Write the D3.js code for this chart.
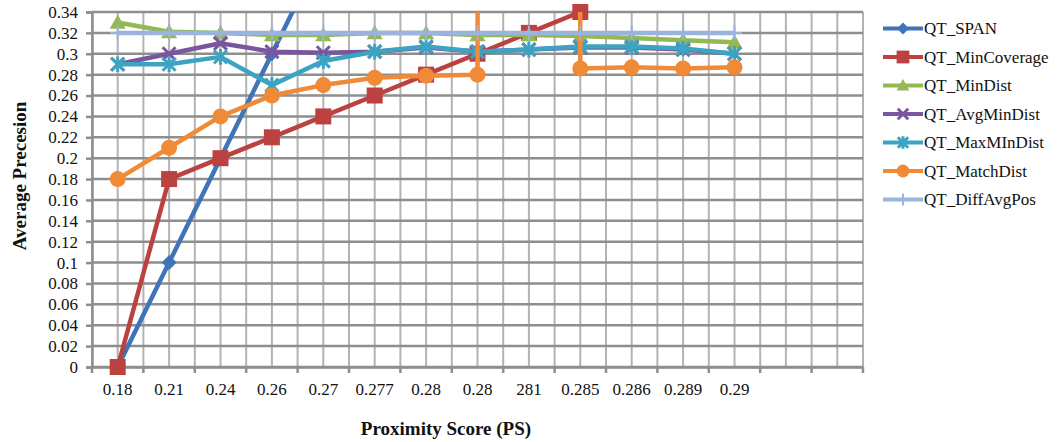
<!DOCTYPE html>
<html>
<head>
<meta charset="utf-8">
<script src="https://cdn.jsdelivr.net/npm/d3@7"></script>
<style>
  html, body { margin: 0; padding: 0; background: #fff; }
  text { font-family: "Liberation Serif", "Times New Roman", serif; fill: #111; }
</style>
</head>
<body>
<div id="chart"></div>
<script>
// Chart data
const categories = ['0.18', '0.21', '0.24', '0.26', '0.27', '0.277', '0.28', '0.28', '281', '0.285', '0.286', '0.289', '0.29'];
const slotCount = 15; // two empty slots on the right
const yTickValues = [0, 0.02, 0.04, 0.06, 0.08, 0.1, 0.12, 0.14, 0.16, 0.18, 0.2, 0.22, 0.24, 0.26, 0.28, 0.3, 0.32, 0.34];

const seriesNames = ['QT_SPAN', 'QT_MinCoverage', 'QT_MinDist', 'QT_AvgMinDist', 'QT_MaxMInDist', 'QT_MatchDist', 'QT_DiffAvgPos'];
const qtSpan = [0, 0.1, 0.2, 0.3, 0.4];
const qtMinCoverage = [0, 0.18, 0.2, 0.22, 0.24, 0.26, 0.28, 0.3, 0.32, 0.34];
const qtMinDist = [0.33, 0.321, 0.32, 0.318, 0.318, 0.32, 0.32, 0.318, 0.318, 0.317, 0.315, 0.313, 0.311];
const qtAvgMinDist = [0.29, 0.3, 0.31, 0.302, 0.301, 0.302, 0.306, 0.302, 0.304, 0.306, 0.306, 0.304, 0.3];
const qtMaxMinDist = [0.29, 0.29, 0.297, 0.27, 0.293, 0.302, 0.307, 0.302, 0.304, 0.307, 0.307, 0.305, 0.3];
const qtMatchDist = [0.18, 0.21, 0.24, 0.26, 0.27, 0.277, 0.279, 0.28, 28.1, 0.286, 0.287, 0.286, 0.287];
const qtDiffAvgPos = [0.32, 0.32, 0.32, 0.32, 0.32, 0.32, 0.32, 0.32, 0.32, 0.32, 0.32, 0.32, 0.32];

const seriesColors = ['#3f74b9', '#bb4240', '#93b955', '#7a55a0', '#3ca4c2', '#f08a36', '#9bb4de'];
const seriesMarkers = ['diamond', 'square', 'triangle', 'times', 'asterisk', 'circle', 'plus'];
const seriesValues = [qtSpan, qtMinCoverage, qtMinDist, qtAvgMinDist, qtMaxMinDist, qtMatchDist, qtDiffAvgPos];

const W = 1060, H = 442;
const margin = { top: 12, right: 197, bottom: 75, left: 92 };
const width = W - margin.left - margin.right;
const height = H - margin.top - margin.bottom;

const svg = d3.select('#chart').append('svg')
  .attr('width', W)
  .attr('height', H);

const chart = svg.append('g')
  .attr('transform', `translate(${margin.left}, ${margin.top})`);

// Scales
const xScale = d3.scaleBand()
  .domain(d3.range(slotCount))
  .range([0, width])
  .padding(0);
const bw = xScale.bandwidth();
const cx = i => xScale(i) + bw / 2;

const yScale = d3.scaleLinear()
  .domain([0, 0.34])
  .range([height, 0]);

// Vertical grid: at slot edges and centres
const vLines = d3.range(slotCount * 2 + 1).map(k => k * bw / 2);
chart.append('g')
  .selectAll('line')
  .data(vLines)
  .join('line')
  .attr('x1', d => d).attr('x2', d => d)
  .attr('y1', 0).attr('y2', height)
  .attr('stroke', '#b3b3b3')
  .attr('stroke-width', 2);

// Horizontal grid
chart.append('g')
  .selectAll('line')
  .data(yTickValues)
  .join('line')
  .attr('x1', 0).attr('x2', width)
  .attr('y1', d => yScale(d)).attr('y2', d => yScale(d))
  .attr('stroke', '#8e8e8e')
  .attr('stroke-width', 2.5);

// Axes
const fmt = v => String(+v.toFixed(2));
const yAxis = chart.append('g')
  .call(d3.axisLeft(yScale).tickValues(yTickValues).tickFormat(fmt).tickSize(6).tickPadding(8));
const xAxis = chart.append('g')
  .attr('transform', `translate(0, ${height})`)
  .call(d3.axisBottom(xScale).tickFormat(i => categories[i] || '').tickSize(0).tickPadding(16));

[yAxis, xAxis].forEach(a => {
  a.select('.domain').attr('stroke', '#8e8e8e').attr('stroke-width', 2.5);
  a.selectAll('.tick line').attr('stroke', '#8e8e8e').attr('stroke-width', 2.5);
  a.selectAll('text').style('font-size', '17px').attr('fill', '#111')
    .style('font-family', '"Liberation Serif", serif');
});

// x tick marks at slot boundaries
chart.append('g')
  .selectAll('line')
  .data(d3.range(slotCount + 1))
  .join('line')
  .attr('x1', d => d * bw).attr('x2', d => d * bw)
  .attr('y1', height).attr('y2', height + 6)
  .attr('stroke', '#8e8e8e')
  .attr('stroke-width', 2.5);

// Axis titles
svg.append('text')
  .attr('transform', 'translate(26, 176) rotate(-90)')
  .attr('text-anchor', 'middle')
  .style('font-size', '19px')
  .style('font-weight', 'bold')
  .text('Average Precesion');

svg.append('text')
  .attr('x', 446)
  .attr('y', 435)
  .attr('text-anchor', 'middle')
  .style('font-size', '19px')
  .style('font-weight', 'bold')
  .text('Proximity Score (PS)');

// Marker shapes
function markerPath(type, s) {
  switch (type) {
    case 'diamond': return `M0,${-s}L${s},0L0,${s}L${-s},0Z`;
    case 'square': return `M${-s},${-s}H${s}V${s}H${-s}Z`;
    case 'triangle': return `M0,${-s}L${s},${s * 0.8}L${-s},${s * 0.8}Z`;
    case 'times': return `M${-s},${-s}L${s},${s}M${-s},${s}L${s},${-s}`;
    case 'asterisk': return `M${-s},${-s}L${s},${s}M${-s},${s}L${s},${-s}M0,${-s * 1.2}L0,${s * 1.2}`;
    case 'plus': return `M${-s},0L${s},0M0,${-s}L0,${s}`;
    case 'circle': return d3.arc()({ innerRadius: 0, outerRadius: s, startAngle: 0, endAngle: 2 * Math.PI });
  }
}
const strokeMarkers = new Set(['times', 'asterisk', 'plus']);
function drawMarker(g, type, color, x, y, s) {
  const p = g.append('path')
    .attr('d', markerPath(type, s))
    .attr('transform', `translate(${x}, ${y})`);
  if (strokeMarkers.has(type)) {
    p.attr('fill', 'none').attr('stroke', color).attr('stroke-width', type === 'plus' ? 2 : 3);
  } else {
    p.attr('fill', color);
  }
}

// Clip for lines
svg.append('defs').append('clipPath').attr('id', 'plot-clip')
  .append('rect').attr('x', 0).attr('y', 0).attr('width', width).attr('height', height);

const line = d3.line()
  .defined(d => d != null)
  .x((d, i) => cx(i))
  .y(d => yScale(d));

const markerSize = { diamond: 7.5, square: 8, triangle: 8, times: 6.5, asterisk: 6.5, circle: 8, plus: 7.5 };

seriesValues.forEach((vals, si) => {
  const g = chart.append('g');
  g.append('path')
    .datum(vals)
    .attr('clip-path', 'url(#plot-clip)')
    .attr('d', line)
    .attr('fill', 'none')
    .attr('stroke', seriesColors[si])
    .attr('stroke-width', 4.5)
    .attr('stroke-linejoin', 'round');
  vals.forEach((v, i) => {
    if (v == null || v > 0.345) return;
    drawMarker(g, seriesMarkers[si], seriesColors[si], cx(i), yScale(v), markerSize[seriesMarkers[si]]);
  });
});

// Legend
const legend = svg.append('g').attr('transform', 'translate(883, 28.5)');
seriesNames.forEach((name, si) => {
  const row = legend.append('g').attr('transform', `translate(0, ${si * 28.5})`);
  row.append('line')
    .attr('x1', 0).attr('x2', 40)
    .attr('stroke', seriesColors[si])
    .attr('stroke-width', 4);
  drawMarker(row, seriesMarkers[si], seriesColors[si], 20, 0, markerSize[seriesMarkers[si]] * 0.8);
  row.append('text')
    .attr('x', 41)
    .attr('dy', '0.35em')
    .style('font-size', '17px')
    .text(name);
});
</script>
</body>
</html>
